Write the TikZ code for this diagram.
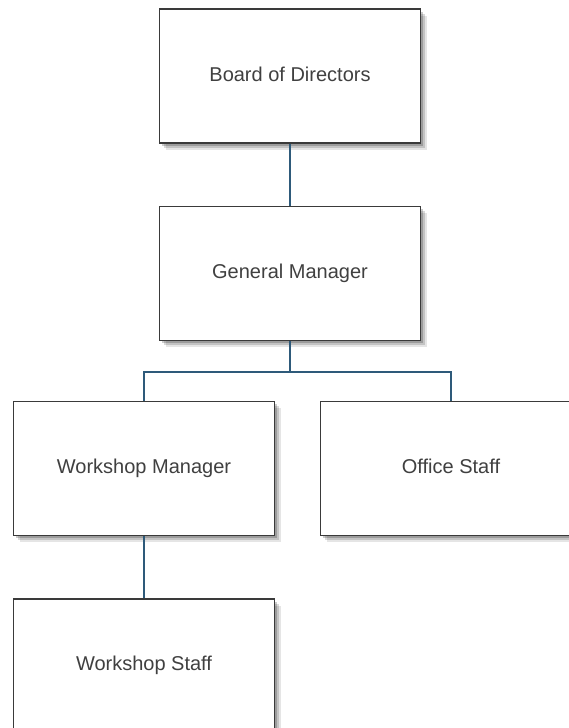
\documentclass[tikz,border=0pt]{standalone}
\usepackage{fontspec}
\setmainfont{Liberation Sans}
\usepackage{tikz}
\usetikzlibrary{positioning,calc,shadows}
\definecolor{linkblue}{HTML}{2E5A7A}
\definecolor{boxgray}{HTML}{3A3A3A}
\definecolor{textgray}{HTML}{404040}

\begin{document}
\begin{tikzpicture}[x=1pt, y=-1pt, line width=1.4pt]
	\tikzstyle{orgbox} = [rectangle, minimum width=261pt, minimum height=134pt, text centered, text height=14pt, text depth=4pt, draw=boxgray, fill=white, text=textgray, font=\fontsize{20}{24}\selectfont, drop shadow={shadow xshift=6pt, shadow yshift=-7pt, opacity=0.10, fill=black}, drop shadow={shadow xshift=4pt, shadow yshift=-5pt, opacity=0.15, fill=black}, drop shadow={shadow xshift=2pt, shadow yshift=-3pt, opacity=0.2, fill=black}]
	\tikzstyle{conn} = [draw=linkblue, line width=1.4pt]
	\useasboundingbox (0,0) rectangle (569,728);
	\node (board) [orgbox] at (290,76) {Board of Directors};
	\node (gm) [orgbox, below=62pt of board] {General Manager};
	\node (wm) [orgbox] at ($(gm.center)+(-146,195)$) {Workshop Manager};
	\node (office) [orgbox] at ($(gm.center)+(161,195)$) {Office Staff};
	\node (wstaff) [orgbox, below=62pt of wm] {Workshop Staff};

	\draw [conn] (board.south) -- (gm.north);
	\draw [conn] (gm.south) -- ++(0,31) -| (wm.north);
	\draw [conn] (gm.south) -- ++(0,31) -| (office.north);
	\draw [conn] (wm.south) -- (wstaff.north);
\end{tikzpicture}
\end{document}
